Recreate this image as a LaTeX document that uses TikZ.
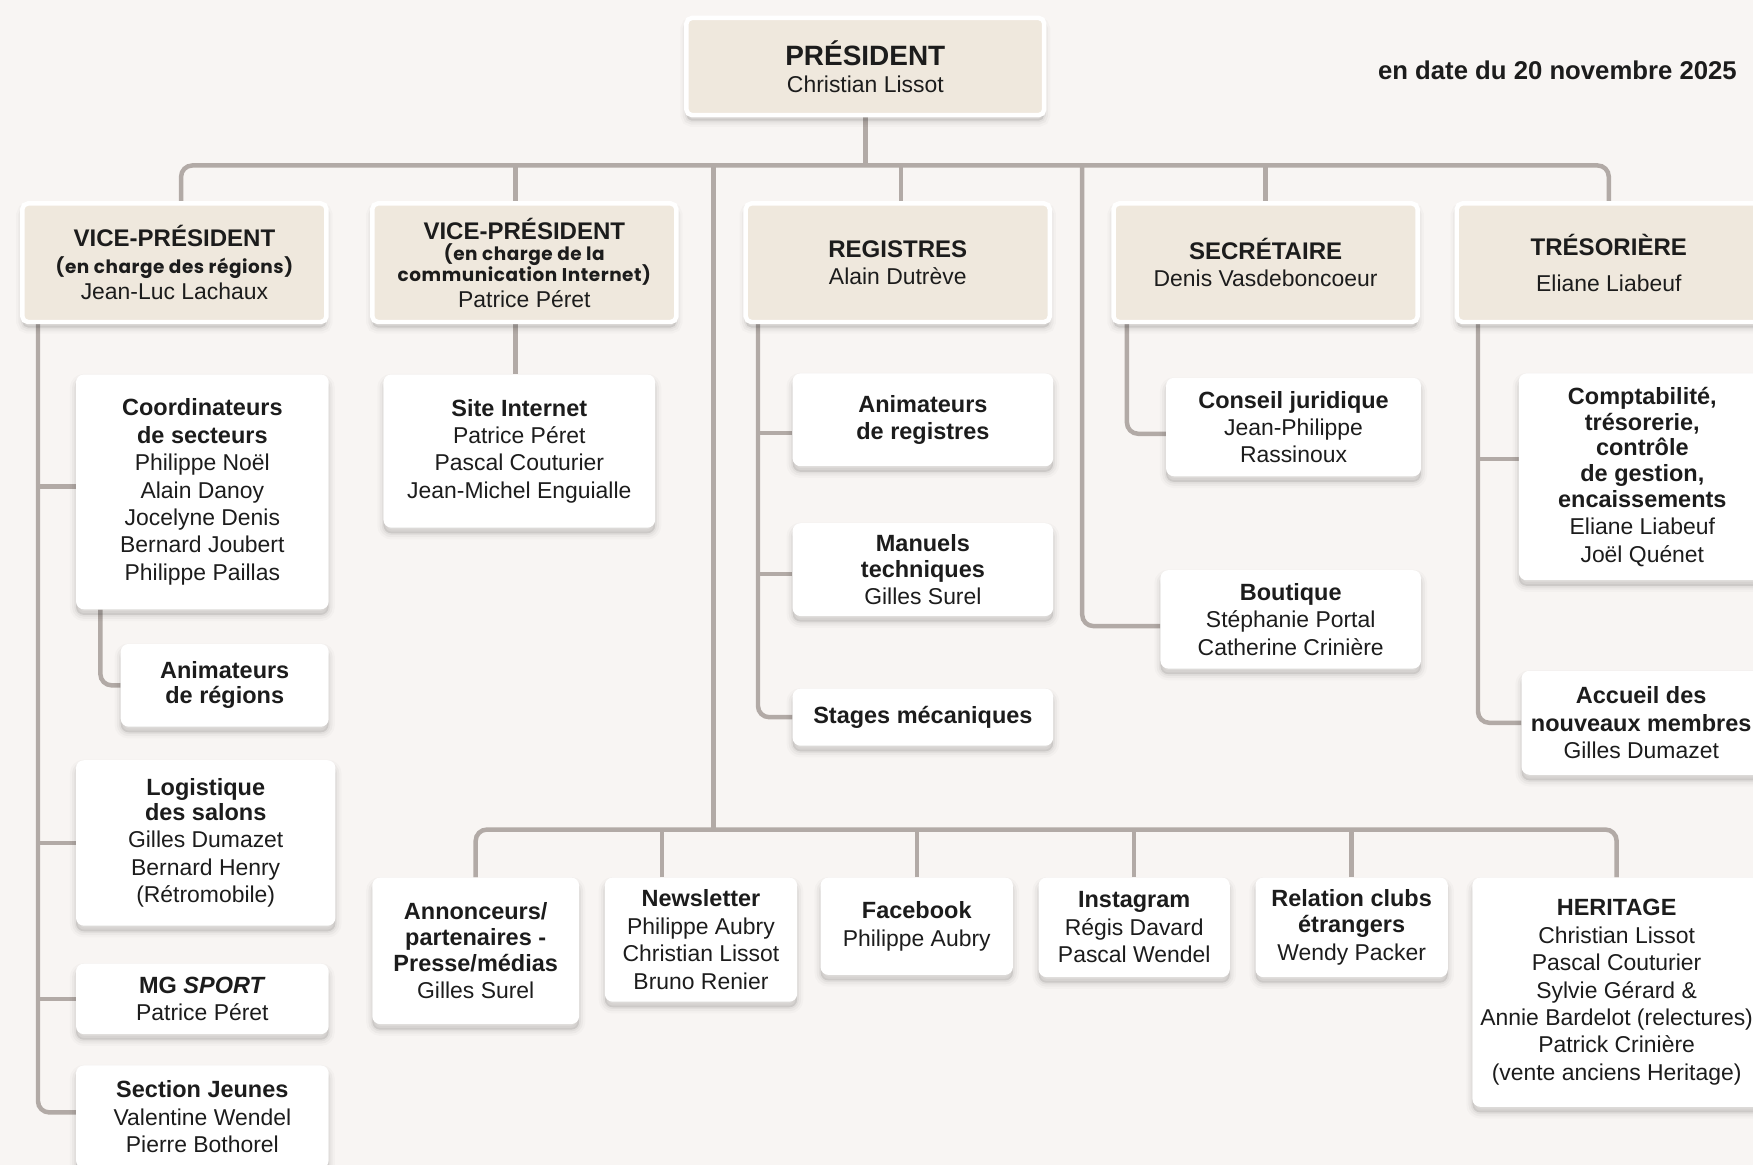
\documentclass[tikz,border=0pt]{standalone}
\usepackage{fontspec}
\setmainfont{Liberation Sans}
\newfontfamily\popf{Poppins}[LetterSpace=3]
\usetikzlibrary{shadows}
\definecolor{bgc}{HTML}{F8F5F3}
\definecolor{beigec}{HTML}{EFE8DD}
\definecolor{linec}{HTML}{B2AAA6}
\definecolor{txtc}{HTML}{1C1C1C}
\pgfdeclarelayer{back}\pgfdeclarelayer{bg}\pgfsetlayers{back,bg,main}
\newcommand{\nmf}{\fontsize{20.5}{24.5}\selectfont}
\newcommand{\hdf}{\fontsize{21}{24.5}\selectfont\bfseries}
\newcommand{\capf}{\fontsize{21.5}{24.5}\selectfont\bfseries}
\newcommand{\smf}{\popf\fontsize{16.5}{19}\selectfont\bfseries}
\begin{document}
\begin{tikzpicture}[x=1pt,y=-1pt,
  conn/.style={draw=linec, line width=4pt, rounded corners=10pt},
  softshadow/.style={
    general shadow={fill=black, draw=black, line width=11pt, opacity=0.02, shadow yshift=-5pt},
    general shadow={fill=black, draw=black, line width=7pt, opacity=0.03, shadow yshift=-5pt},
    general shadow={fill=black, draw=black, line width=3pt, opacity=0.04, shadow yshift=-5pt}},
  wbox/.style={fill=white, rounded corners=7pt, inner sep=0pt, align=center, font=\nmf, text=txtc, softshadow},
  bbox/.style={fill=beigec, draw=white, line width=4pt, rounded corners=5pt, inner sep=0pt, align=center, font=\nmf, text=txtc, softshadow}]
\useasboundingbox (0,0) rectangle (1568,1042);
\begin{pgfonlayer}{back}
\fill[bgc] (0,0) rectangle (1568,1042);
\end{pgfonlayer}

% top
\node[bbox, minimum width=320pt, minimum height=87pt] (pres) at (774,59.5)
  {{\fontsize{25}{26}\selectfont\bfseries PRÉSIDENT}\\Christian Lissot};
\node[anchor=east, font=\fontsize{23}{26}\selectfont\bfseries, text=txtc] (date) at (1557,63) {en date du 20 novembre 2025};

% level 2
\node[bbox, minimum width=272pt, minimum height=106pt] (vp1) at (156,235)
  {{\capf VICE-PRÉSIDENT}\\[-0.5pt]{\smf (en charge des régions)}\\[-1pt]Jean-Luc Lachaux};
\node[bbox, minimum width=272pt, minimum height=106pt] (vp2) at (469,235)
  {{\capf VICE-PRÉSIDENT}\\[-5.5pt]{\smf (en charge de la}\\[-5.5pt]{\smf communication Internet)}\\[-1.5pt]Patrice Péret};
\node[bbox, minimum width=272pt, minimum height=106pt] (reg) at (803,235)
  {{\capf REGISTRES}\\Alain Dutrève};
\node[bbox, minimum width=272pt, minimum height=106pt] (sec) at (1132,235)
  {{\capf SECRÉTAIRE}\\Denis Vasdeboncoeur};
\node[bbox, minimum width=272pt, minimum height=106pt] (tres) at (1439,235)
  {{\capf TRÉSORIÈRE}\\[8pt]Eliane Liabeuf};

% VP1 column
\node[wbox, minimum width=226pt, minimum height=210pt] (coord) at (181,440)
  {{\hdf Coordinateurs}\\{\hdf de secteurs}\\Philippe Noël\\Alain Danoy\\Jocelyne Denis\\Bernard Joubert\\Philippe Paillas};
\node[wbox, minimum width=186pt, minimum height=74pt] (animreg) at (201,613)
  {{\hdf Animateurs}\\[-2pt]{\hdf de régions}};
\node[wbox, minimum width=232pt, minimum height=148pt] (logi) at (184,754)
  {{\hdf Logistique}\\[-2pt]{\hdf des salons}\\Gilles Dumazet\\Bernard Henry\\(Rétromobile)};
\node[wbox, minimum width=226pt, minimum height=63pt] (mg) at (181,893.5)
  {{\hdf MG \textit{SPORT}}\\Patrice Péret};
\node[wbox, minimum width=226pt, minimum height=92pt] (sj) at (181,999)
  {{\hdf Section Jeunes}\\Valentine Wendel\\Pierre Bothorel};

% VP2 column
\node[wbox, minimum width=243pt, minimum height=137pt] (site) at (464.5,403.5)
  {{\hdf Site Internet}\\Patrice Péret\\Pascal Couturier\\Jean-Michel Enguialle};

% Registres column
\node[wbox, minimum width=233pt, minimum height=83pt] (animr) at (825.5,375.5)
  {{\hdf Animateurs}\\{\hdf de registres}};
\node[wbox, minimum width=233pt, minimum height=83pt] (manu) at (825.5,509.5)
  {{\hdf Manuels}\\[-1pt]{\hdf techniques}\\Gilles Surel};
\node[wbox, minimum width=233pt, minimum height=51pt] (stages) at (825.5,641.5)
  {{\hdf Stages mécaniques}};

% Secretaire column
\node[wbox, minimum width=228pt, minimum height=88pt] (cons) at (1157,382)
  {{\hdf Conseil juridique}\\Jean-Philippe\\Rassinoux};
\node[wbox, minimum width=233pt, minimum height=88pt] (bout) at (1154.5,554)
  {{\hdf Boutique}\\Stéphanie Portal\\Catherine Crinière};

% Tresoriere column
\node[wbox, minimum width=221pt, minimum height=185pt] (compta) at (1469,426.5)
  {{\hdf Comptabilité,}\\[-1.5pt]{\hdf trésorerie,}\\[-1.5pt]{\hdf contrôle}\\[-1.5pt]{\hdf de gestion,}\\[-1.5pt]{\hdf encaissements}\\Eliane Liabeuf\\Joël Quénet};
\node[wbox, minimum width=214pt, minimum height=93pt] (acc) at (1468,646.5)
  {{\hdf Accueil des}\\{\hdf nouveaux membres}\\Gilles Dumazet};

% bottom row
\node[wbox, minimum width=185pt, minimum height=131pt] (ann) at (425.5,850.5)
  {{\hdf Annonceurs/}\\[-1.5pt]{\hdf partenaires -}\\[-1.5pt]{\hdf Presse/médias}\\Gilles Surel};
\node[wbox, minimum width=172pt, minimum height=111pt] (news) at (627,840.5)
  {{\hdf Newsletter}\\Philippe Aubry\\Christian Lissot\\Bruno Renier};
\node[wbox, minimum width=172pt, minimum height=87pt] (fb) at (820,828.5)
  {{\hdf Facebook}\\Philippe Aubry};
\node[wbox, minimum width=171pt, minimum height=89pt] (insta) at (1014.5,829.5)
  {{\hdf Instagram}\\Régis Davard\\Pascal Wendel};
\node[wbox, minimum width=172pt, minimum height=89pt] (rel) at (1209,829.5)
  {{\hdf Relation clubs}\\[-1.5pt]{\hdf étrangers}\\Wendy Packer};
\node[wbox, minimum width=258pt, minimum height=205pt] (her) at (1446,887.5)
  {{\hdf HERITAGE}\\Christian Lissot\\Pascal Couturier\\Sylvie Gérard \&\\Annie Bardelot (relectures)\\Patrick Crinière\\(vente anciens Heritage)};

% coordinates for buses
\coordinate (bus) at (0,148);
\coordinate (lbus) at (638,742);
\coordinate (bq) at (968,148);

\begin{pgfonlayer}{bg}
% top bus
\draw[conn] (pres.south) -- (pres.south |- bus);
\draw[conn] ([xshift=6pt]vp1.north) -- ([xshift=6pt]vp1.north |- bus) -- (tres.north |- bus) -- (tres.north);
\draw[conn] ([xshift=-8pt]vp2.north) -- ([xshift=-8pt]vp2.north |- bus);
\draw[conn] ([xshift=3pt]reg.north) -- ([xshift=3pt]reg.north |- bus);
\draw[conn] (sec.north) -- (sec.north |- bus);
\draw[conn] (lbus |- bus) -- (lbus);
\draw[conn] (bq) |- ([yshift=-6pt]bout.west);
% lower bus
\draw[conn] (ann.north) -- (ann.north |- lbus) -- (her.north |- lbus) -- (her.north);
\draw[conn] ([xshift=-35pt]news.north) -- ([xshift=-35pt]news.north |- lbus);
\draw[conn] (fb.north) -- (fb.north |- lbus);
\draw[conn] (insta.north) -- (insta.north |- lbus);
\draw[conn] (rel.north) -- (rel.north |- lbus);
% VP1 trunk
\coordinate (t1) at ([xshift=16pt]vp1.south west);
\draw[conn] (t1) |- ([yshift=4pt]sj.west);
\draw[conn] ([yshift=5pt]coord.west -| t1) -- ([yshift=5pt]coord.west);
\draw[conn] (logi.west -| t1) -- (logi.west);
\draw[conn] (mg.west -| t1) -- (mg.west);
\draw[conn] ([xshift=22pt]coord.south west) |- (animreg.west);
% VP2
\draw[conn] ([xshift=-8pt]vp2.south) -- ([xshift=-8pt]vp2.south |- site.north);
% Registres trunk
\coordinate (t3) at ([xshift=13pt]reg.south west);
\draw[conn] (t3) |- (stages.west);
\draw[conn] ([yshift=-12pt]animr.west -| t3) -- ([yshift=-12pt]animr.west);
\draw[conn] ([yshift=-4pt]manu.west -| t3) -- ([yshift=-4pt]manu.west);
% Secretaire
\draw[conn] ([xshift=14pt]sec.south west) |- ([yshift=-6pt]cons.west);
% Tresoriere trunk
\coordinate (t5) at ([xshift=21pt]tres.south west);
\draw[conn] (t5) |- (acc.west);
\draw[conn] ([yshift=16pt]compta.west -| t5) -- ([yshift=16pt]compta.west);
\end{pgfonlayer}
\end{tikzpicture}
\end{document}
